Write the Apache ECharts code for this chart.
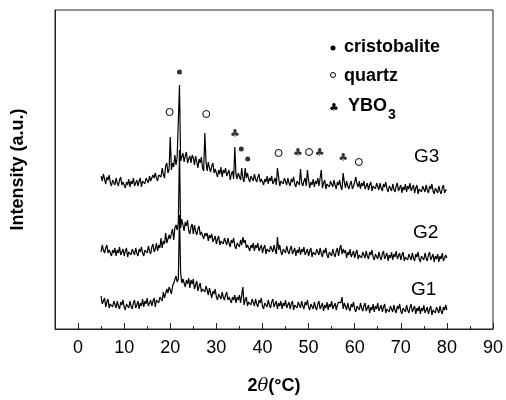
<!DOCTYPE html>
<html><head><meta charset="utf-8">
<script src="https://cdn.jsdelivr.net/npm/echarts@6/dist/echarts.min.js"></script>
<style>html,body{margin:0;padding:0;background:#fff}#c{width:506px;height:400px}</style>
</head><body><div id="c"></div>
<script>
// 2-theta sampling: 5 to 80 deg, step 0.25
const thetaStart = 5, thetaStep = 0.25;

const g3 = [
153,148,155,150, 145,152,149,154, 146,143,149,151, 144,151,146,143, 149,152,144,147,
149,141,147,144, 150,142,148,145, 151,143,144,149, 143,148,151,142, 148,150,145,151,
151,146,153,148, 147,154,151,156, 151,148,154,156, 152,161,155,151, 163,166,156,160,
192,159,166,162, 174,164,172,173, 244,168,169,176, 167,173,177,166, 170,173,166,174,
171,164,173,167, 161,170,166,172, 161,158,196,168, 158,167,161,157, 163,166,156,160,
162,152,159,155, 162,152,159,156, 161,153,154,159, 149,155,158,150, 182,155,150,156,
154,149,161,151, 147,161,151,156, 150,147,153,155, 148,155,150,147, 152,155,147,150,
152,144,150,147, 153,145,151,148, 153,145,146,151, 144,161,152,143, 148,150,145,151,
149,144,151,146, 143,150,147,152, 145,142,148,150, 144,160,146,143, 148,151,143,159,
149,141,147,144, 150,142,148,145, 151,143,144,159, 141,146,149,140, 145,147,142,148,
147,142,149,144, 140,147,144,149, 142,139,156,147, 141,148,143,140, 145,148,140,143,
147,152,145,142, 148,140,146,143, 148,140,141,146, 139,144,147,138, 143,145,140,146,
144,139,146,141, 138,145,142,147, 140,137,143,145, 138,145,140,137, 143,146,138,141,
144,136,142,139, 145,137,143,140, 146,138,139,144, 136,141,144,135, 140,142,137,143,
142,137,144,139, 136,143,140,145, 138,135,141,143, 136,143,138,135, 141,144,136,139,
139];

const g2 = [
77,84,79,76, 81,84,76,79, 81,73,79,76, 81,73,79,76, 82,74,75,80,
73,78,81,72, 77,79,74,80, 79,74,81,76, 73,80,77,82, 76,73,79,81,
76,83,78,75, 82,85,77,80, 86,78,84,81, 91,81,88,85, 96,86,87,94,
90,96,100,89, 101,104,99,106, 179,101,110,104, 98,107,103,109, 98,95,102,105,
95,104,98,94, 100,103,94,97, 98,90,96,93, 96,88,94,91, 95,87,88,93,
85,90,93,84, 88,90,85,91, 89,84,91,86, 82,89,86,91, 83,80,86,88,
82,89,84,92, 86,89,81,84, 86,78,84,81, 86,78,84,81, 86,78,79,84,
76,81,84,75, 80,82,77,83, 82,77,84,79, 75,92,79,84, 77,74,80,82,
76,83,78,75, 80,83,75,78, 81,73,79,76, 82,74,80,77, 82,74,75,80,
73,78,81,72, 77,79,74,80, 79,74,81,76, 72,79,76,81, 74,71,77,79,
73,80,75,72, 78,81,73,80, 84,75,80,76, 79,71,77,74, 80,72,73,78,
71,76,79,70, 74,76,71,77, 76,71,78,73, 70,77,74,79, 72,69,75,77,
70,77,72,69, 75,78,70,73, 76,68,74,71, 77,69,75,72, 78,70,71,76,
69,74,77,68, 72,74,69,75, 74,69,76,71, 68,75,72,77, 70,67,73,75,
69,76,71,68, 74,77,69,72, 75,67,73,70, 75,67,73,70, 76,68,69,74,
71];

const g1 = [
33,25,26,31, 22,27,30,21, 25,27,22,28, 26,21,28,23, 20,27,24,29,
22,19,25,27, 21,28,23,20, 26,29,21,24, 28,20,26,23, 30,22,28,25,
31,23,24,29, 23,28,31,22, 29,31,26,32, 34,28,37,31, 31,40,36,42,
39,35,43,46, 44,53,47,50, 114,56,46,50, 52,42,49,45, 51,41,49,45,
50,40,41,48, 38,43,46,37, 40,42,37,43, 39,34,41,36, 31,38,35,40,
32,29,35,37, 30,37,32,29, 34,37,29,32, 34,26,32,29, 34,26,32,29,
34,26,27,42, 24,29,32,23, 27,29,24,30, 28,23,30,25, 22,29,26,31,
23,20,26,28, 22,29,24,21, 27,30,22,25, 28,20,26,23, 28,20,26,23,
29,21,22,27, 20,25,28,19, 24,26,21,27, 26,21,28,23, 20,27,24,29,
22,19,25,27, 20,27,22,19, 25,28,20,23, 26,18,24,21, 27,19,25,22,
28,20,21,26, 19,24,27,25, 26,32,20,26, 24,19,26,21, 18,25,22,27,
20,17,23,25, 19,26,21,18, 23,26,18,21, 24,16,22,19, 25,17,23,20,
26,18,19,24, 17,22,25,16, 20,22,17,23, 22,17,24,19, 16,23,20,25,
18,15,21,23, 17,24,19,16, 22,25,17,20, 23,15,21,18, 23,15,21,18,
24,16,17,22, 15,20,23,14, 19,21,16,22, 21,16,23,18, 15,22,19,24,
19];

const xTickLabels = ['-5','0','5','10','15','20','25','30','35','40','45','50','55','60','65','70','75','80','85','90'];
const seriesNames = ['G1','G2','G3'];

// phase marks [2theta, height]
const cristobaliteMarks = [[22.0,257],[35.4,180],[36.8,170]];
const quartzMarks = [[19.85,217],[27.8,215],[43.5,176],[50.1,177],[60.9,167]];
const ybo3Marks = [[34.0,195],[47.7,176],[52.4,176],[57.5,171]];

const toPairs = arr => arr.map((v, i) => [thetaStart + i * thetaStep, v]);
const FONT = 'Liberation Sans, Arial, Helvetica, sans-serif';

const chart = echarts.init(document.getElementById('c'), null, {renderer: 'canvas'});
const lineSeries = [g1, g2, g3].map((d, k) => ({
  name: seriesNames[k], type: 'line', xAxisIndex: 0, yAxisIndex: 0,
  data: toPairs(d), showSymbol: false, symbol: 'none',
  lineStyle: {color: '#000', width: 1.2}, silent: true
}));

chart.setOption({
  animation: false,
  backgroundColor: '#fff',
  grid: {left: 55, right: 13, top: 10, bottom: 71, show: true, borderColor: '#222', borderWidth: 1},
  xAxis: [
    {type: 'value', min: -5, max: 90, interval: 5,
     axisLine: {onZero: false, lineStyle: {color: '#222', width: 1}},
     axisTick: {inside: true, length: 3, lineStyle: {color: '#222'}},
     axisLabel: {show: false}, splitLine: {show: false},
     name: '{n|2}{i|θ}{n|(°C)}', nameLocation: 'middle', nameGap: 48,
     nameTextStyle: {rich: {
       n: {fontFamily: FONT, fontWeight: 'bold', fontSize: 18, color: '#000'},
       i: {fontFamily: 'DejaVu Serif, serif', fontStyle: 'italic', fontSize: 18, color: '#000'}
     }}},
    {type: 'category', data: xTickLabels, boundaryGap: false, position: 'bottom', offset: 0,
     axisLine: {show: false, onZero: false},
     axisTick: {inside: true, length: 6, interval: (i) => i % 2 === 1, lineStyle: {color: '#222'}},
     axisLabel: {interval: (i) => i % 2 === 1, color: '#000', fontSize: 18, fontFamily: FONT, margin: 10},
     splitLine: {show: false}}
  ],
  yAxis: {type: 'value', min: 0, max: 319,
    axisLine: {show: true, onZero: false, lineStyle: {color: '#222'}}, axisTick: {show: false}, axisLabel: {show: false},
    splitLine: {show: false},
    name: 'Intensity (a.u.)', nameLocation: 'middle', nameGap: 28,
    nameTextStyle: {fontFamily: FONT, fontWeight: 'bold', fontSize: 18, color: '#000'}},
  series: lineSeries.concat([
    {type: 'scatter', data: cristobaliteMarks, symbol: 'circle', symbolSize: 5,
     itemStyle: {color: '#000'}, silent: true, z: 5},
    {type: 'scatter', data: quartzMarks, symbol: 'circle', symbolSize: 7,
     itemStyle: {color: '#fff', borderColor: '#000', borderWidth: 1, opacity: 1}, silent: true, z: 5},
    {type: 'scatter', data: ybo3Marks, symbol: 'circle', symbolSize: 0.01,
     label: {show: true, position: 'inside', formatter: '♣', fontSize: 11, color: '#000', fontFamily: 'DejaVu Sans'},
     silent: true, z: 5}
  ]),
  graphic: [
    {type: 'circle', shape: {cx: 333, cy: 48, r: 2.5}, style: {fill: '#000'}},
    {type: 'text', left: 344, top: 38, style: {text: 'cristobalite', font: 'bold 18px ' + FONT, fill: '#000'}},
    {type: 'circle', shape: {cx: 333, cy: 75, r: 2.5}, style: {fill: '#fff', stroke: '#000', lineWidth: 1}},
    {type: 'text', left: 344, top: 67, style: {text: 'quartz', font: 'bold 18px ' + FONT, fill: '#000'}},
    {type: 'text', left: 329, top: 103, style: {text: '♣', font: '11px DejaVu Sans', fill: '#000'}},
    {type: 'text', left: 348, top: 97, style: {text: 'YBO', font: 'bold 18px ' + FONT, fill: '#000'}},
    {type: 'text', left: 388, top: 108, style: {text: '3', font: 'bold 14px ' + FONT, fill: '#000'}},
    {type: 'text', left: 414, top: 147, style: {text: seriesNames[2], font: '19px ' + FONT, fill: '#000'}},
    {type: 'text', left: 413, top: 223, style: {text: seriesNames[1], font: '19px ' + FONT, fill: '#000'}},
    {type: 'text', left: 411, top: 280, style: {text: seriesNames[0], font: '19px ' + FONT, fill: '#000'}}
  ]
});
</script></body></html>
